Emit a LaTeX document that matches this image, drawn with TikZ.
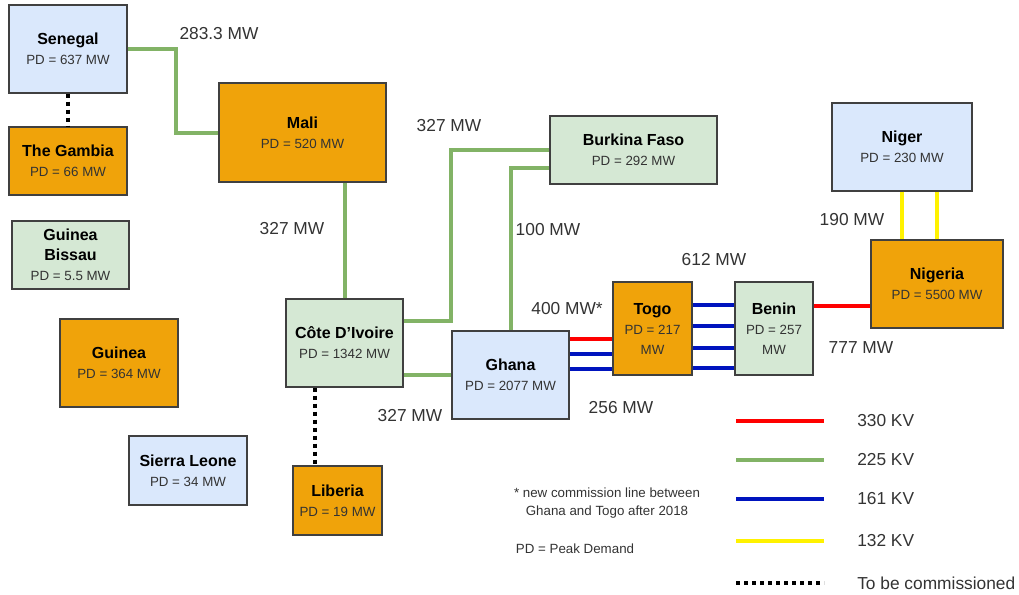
\documentclass[tikz,border=0pt]{standalone}
\usepackage{fontspec}
\setmainfont{Liberation Sans}

\definecolor{fillblue}{HTML}{DAE8FC}
\definecolor{fillgreen}{HTML}{D5E8D4}
\definecolor{fillorange}{HTML}{F0A30A}
\definecolor{linegreen}{HTML}{82B366}
\definecolor{lineblue}{HTML}{0014BE}
\definecolor{textgray}{HTML}{333333}

\newcommand{\cname}[1]{{\fontsize{12}{15}\selectfont\bfseries\color{black}#1}}

\begin{document}
\begin{tikzpicture}[x=0.75pt, y=-0.75pt,
    box/.style={draw=black!75, line width=0.9pt, align=center, inner sep=1pt,
      text=textgray, font=\fontsize{10}{15}\selectfont},
    size/.style 2 args={minimum width=#1*0.75pt, minimum height=#2*0.75pt},
    bluebox/.style={box, fill=fillblue},
    greenbox/.style={box, fill=fillgreen},
    orangebox/.style={box, fill=fillorange},
    lbl/.style={text=black!80, font=\fontsize{13}{15}\selectfont},
    note/.style={text=textgray, font=\fontsize{10}{13}\selectfont, align=center},
    kv330/.style={draw=red, line width=3pt},
    kv225/.style={draw=linegreen, line width=3pt},
    kv161/.style={draw=lineblue, line width=3pt},
    kv132/.style={draw=yellow, line width=3pt},
    todo/.style={draw=black, line width=3pt, dash pattern=on 3pt off 3pt}]

  \useasboundingbox (0,0) rectangle (1019,595);

  % countries (west)
  \node[bluebox, size={118}{88}]   (sen) at (68,49)    {\cname{Senegal}\\PD = 637 MW};
  \node[orangebox, size={118}{68}] (gam) at (68,161)   {\cname{The Gambia}\\PD = 66 MW};
  \node[greenbox, size={117}{68}]  (gbs) at (70.5,255) {\cname{Guinea}\\\cname{Bissau}\\PD = 5.5 MW};
  \node[orangebox, size={118}{88}] (gui) at (119,363)  {\cname{Guinea}\\PD = 364 MW};
  \node[bluebox, size={118}{69}]   (sle) at (188,470.5) {\cname{Sierra Leone}\\PD = 34 MW};
  \node[orangebox, size={167}{99}] (mali) at (302.5,132.5) {\cname{Mali}\\PD = 520 MW};

  % countries (centre)
  \node[greenbox, size={117}{88}]  (civ) at (344.5,343) {\cname{Côte D’Ivoire}\\PD = 1342 MW};
  \node[orangebox, size={89}{69}]  (lib) at (337.5,500.5) {\cname{Liberia}\\PD = 19 MW};
  \node[bluebox, size={117}{88}]   (gh)  at (510.5,375) {\cname{Ghana}\\PD = 2077 MW};
  \node[greenbox, size={167}{68}]  (bf)  at (633.5,150) {\cname{Burkina Faso}\\PD = 292 MW};
  \node[orangebox, size={79}{93}]  (togo) at (652.5,328.5) {\cname{Togo}\\PD = 217\\MW};
  \node[greenbox, size={78}{93}]   (ben) at (774,328.5) {\cname{Benin}\\PD = 257\\MW};

  % countries (east)
  \node[bluebox, size={140}{88}]   (ner) at (902,147) {\cname{Niger}\\PD = 230 MW};
  \node[orangebox, size={132}{88}] (nga) at (937,284) {\cname{Nigeria}\\PD = 5500 MW};

  % 225 kV lines
  \draw[kv225] (sen.east) -| (176,133) -- (mali.west |- 0,133);
  \draw[kv225] (civ.north) -- (civ.north |- mali.south);
  \draw[kv225] (civ.east |- 0,321) -| (451,150) -- (bf.west);
  \draw[kv225] (gh.north) |- (bf.west |- 0,168);
  \draw[kv225] (civ.east |- gh.west) -- (gh.west);

  % Ghana - Togo - Benin - Nigeria
  \draw[kv330] (gh.east |- 0,339) -- (togo.west |- 0,339);
  \foreach \y in {354,369}
    \draw[kv161] (gh.east |- 0,\y) -- (togo.west |- 0,\y);
  \foreach \y in {305,326,348,368}
    \draw[kv161] (togo.east |- 0,\y) -- (ben.west |- 0,\y);
  \draw[kv330] (ben.east |- 0,306) -- (nga.west |- 0,306);

  % Niger - Nigeria
  \draw[kv132] (ner.south) -- (ner.south |- nga.north);
  \draw[kv132] (nga.north) -- (nga.north |- ner.south);

  % to be commissioned
  \draw[todo] (sen.south) -- (gam.north);
  \draw[todo] (civ.south -| 315,0) -- (lib.north -| 315,0);

  % capacities
  \node[lbl] (c283) at (219,34)  {283.3 MW};
  \node[lbl] (c327a) at (292,229) {327 MW};
  \node[lbl] (c327b) at (449,126) {327 MW};
  \node[lbl] (c100) at (548,230) {100 MW};
  \node[lbl] (c327c) at (410,416) {327 MW};
  \node[lbl] (c400) at (567,309) {400 MW*};
  \node[lbl] (c256) at (621,408) {256 MW};
  \node[lbl] (c612) at (714,260) {612 MW};
  \node[lbl] (c777) at (861,348) {777 MW};
  \node[lbl] (c190) at (852,220) {190 MW};

  % notes
  \node[note] (star) at (607,503) {* new commission line between\\Ghana and Togo after 2018};
  \node[note] (pdkey) at (575,549) {PD = Peak Demand};

  % legend
  \foreach \y/\kind/\txt [count=\i] in {421/kv330/330 KV, 460/kv225/225 KV,
      499/kv161/161 KV, 541/kv132/132 KV, 583/todo/To be commissioned} {
    \coordinate (keya\i) at (736,\y);
    \coordinate (keyb\i) at (824,\y);
    \draw[\kind] (keya\i) -- (keyb\i);
    \node[lbl, anchor=west, inner sep=0pt] (key\i) at (857,\y) {\txt};
  }

\end{tikzpicture}
\end{document}
